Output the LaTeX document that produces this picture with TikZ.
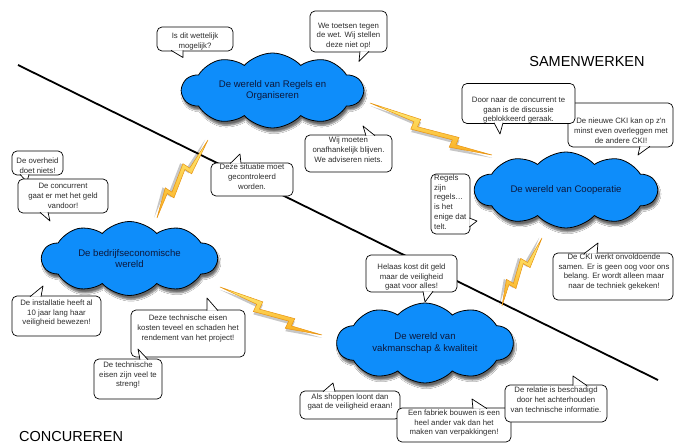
\documentclass[tikz,border=0pt]{standalone}
\usepackage{fontspec}
\newfontfamily\lsans{Liberation Sans}
\usetikzlibrary{shapes.symbols,shadows.blur,calc}

\definecolor{cloudblue}{RGB}{14,141,250}
\definecolor{cloudtext}{RGB}{12,24,60}
\definecolor{bubbletext}{RGB}{45,45,45}
\definecolor{boltlight}{RGB}{255,238,120}
\definecolor{boltdark}{RGB}{250,172,30}
\definecolor{boltedge}{RGB}{232,148,18}

\tikzset{
  world/.style={cloud, cloud puffs=10, cloud puff arc=95, cloud ignores aspect,
    draw=black, line width=0.8pt, fill=cloudblue, inner sep=0pt, align=center,
    font=\lsans\fontsize{9.6}{11.6}\selectfont, text=cloudtext,
    blur shadow={shadow xshift=1.5pt, shadow yshift=-4pt, shadow blur steps=6, shadow opacity=60}},
  bubble/.style={draw=black, fill=white, line width=0.7pt, rounded corners=5pt, inner sep=0pt},
  btext/.style={align=center, font=\lsans\fontsize{7.8}{9.8}\selectfont, text=bubbletext, inner sep=0pt},
  side/.style={font=\lsans\fontsize{14.5}{16}\selectfont, inner sep=0pt},
  divider/.style={line width=1.8pt, black},
  bolt/.pic={
    \fill[black, opacity=0.22, shift={(1.2,1.6)}]
      (0,0) -- (40,-3) -- (40,2) -- (72,-2) -- (72,3) -- (100,0) -- (68,6) -- (68,1) -- (36,5) -- (36,0) -- cycle;
    \path[draw=boltedge, line width=0.5pt, line join=miter, top color=boltlight, bottom color=boltdark]
      (0,0) -- (40,-3) -- (40,2) -- (72,-2) -- (72,3) -- (100,0) -- (68,6) -- (68,1) -- (36,5) -- (36,0) -- cycle;
  }
}

% speech-bubble tail: base point, tip, base point
\newcommand\tail[3]{%
  \fill[white] (#1) -- (#2) -- (#3) -- cycle;
  \draw[line width=0.7pt, line join=round] (#1) -- (#2) -- (#3);}

\begin{document}
\begin{tikzpicture}[x=1pt, y=-1pt]
  \fill[white] (0,0) rectangle (675,444);
  \useasboundingbox (0,0) rectangle (675,444);

  % dividing line between the two halves
  \coordinate (lineA) at (18,65);
  \coordinate (lineB) at (658,380);
  \draw[divider] (lineA) -- (lineB);

  \node[side] (samen) at (587,62) {SAMENWERKEN};
  \node[side, anchor=west] (concur) at (19,437) {CONCUREREN};

  % lightning bolts between the worlds
  \pic[rotate=-23.1, xscale=1.326, yscale=1.6] at (370,103) {bolt};
  \pic[rotate=-123.2, xscale=0.932, yscale=1.6] at (208,140) {bolt};
  \pic[rotate=-25.2, xscale=1.127, yscale=1.6] at (220,287) {bolt};
  \pic[rotate=-120.5, xscale=0.789, yscale=1.6] at (542,238) {bolt};

  % the four worlds
  \node[world, minimum width=181pt, minimum height=75pt] (regels) at (272.5,90.5)
    {De wereld van Regels en\\Organiseren};
  \node[world, minimum width=182pt, minimum height=76pt] (coop) at (566,190)
    {De wereld van Cooperatie};
  \node[world, minimum width=175pt, minimum height=74pt] (bedrijf) at (129.5,258.5)
    {De bedrijfseconomische\\wereld};
  \node[world, minimum width=176pt, minimum height=80pt] (vak) at (425,343)
    {De wereld van\\vakmanschap \& kwaliteit};

  % ---- speech bubbles ----
  \node[bubble, minimum width=76pt, minimum height=24pt] (bA) at (195,39) {};
  \tail{171,50.3}{183,57.5}{183,50.3}
  \node[btext] (tA) at (195,41.5) {Is dit wettelijk\\mogelijk?};

  \node[bubble, minimum width=77pt, minimum height=41pt] (bB) at (348.5,31.5) {};
  \tail{360,51.3}{359,61.5}{369,51.3}
  \node[btext] (tB) at (348.5,36) {We toetsen tegen\\de wet. Wij stellen\\deze niet op!};

  \node[bubble, minimum width=87pt, minimum height=37pt] (bC) at (348.5,153.5) {};
  \tail{366,135.7}{363,126}{375,135.7}
  \node[btext] (tC) at (348.5,150) {Wij moeten\\onafhankelijk blijven.\\We adviseren niets.};

  \node[bubble, minimum width=82pt, minimum height=33pt] (bD) at (252,179.5) {};
  \tail{230,163.7}{240,154}{241,163.7}
  \node[btext] (tD) at (252,176.5) {Deze situatie moet\\gecontroleerd\\worden.};

  \node[bubble, minimum width=105pt, minimum height=44pt] (bF) at (620.5,125) {};
  \tail{640,146.3}{638,155}{650,146.3}
  \node[btext] (tF) at (621,131) {De nieuwe CKI kan op z'n\\minst even overleggen met\\de andere CKI!};

  \node[bubble, minimum width=113pt, minimum height=40pt] (bE) at (518.5,103.5) {};
  \tail{494,122.8}{500,134}{503,122.8}
  \node[btext] (tE) at (518.5,110) {Door naar de concurrent te\\gaan is de discussie\\geblokkeerd geraak.};

  \node[bubble, minimum width=39pt, minimum height=60pt] (bG) at (450.5,204) {};
  \tail{469.3,218}{477,221}{469.3,227}
  \node[btext, align=left, anchor=west] (tG) at (434,202) {Regels\\zijn\\regels…\\is het\\enige dat\\telt.};

  \node[bubble, minimum width=120pt, minimum height=47pt] (bH) at (613,276.5) {};
  \tail{584,253.7}{598,243}{597,253.7}
  \node[btext] (tH) at (614,272) {De CKI werkt onvoldoende\\samen. Er is geen oog voor ons\\belang. Er wordt alleen maar\\naar de techniek gekeken!};

  \node[bubble, minimum width=91pt, minimum height=37pt] (bI) at (411.5,273.5) {};
  \tail{423,291.3}{425,302}{433,291.3}
  \node[btext] (tI) at (411.5,277) {Helaas kost dit geld\\maar de veiligheid\\gaat voor alles!};

  \node[bubble, minimum width=51pt, minimum height=24pt] (bJ) at (37.5,163) {};
  \tail{20,174.3}{27,182}{29,174.3}
  \node[btext] (tJ) at (37.5,166) {De overheid\\doet niets!};

  \node[bubble, minimum width=90pt, minimum height=34pt] (bK) at (63,196) {};
  \tail{40,212.3}{50,221}{48,212.3}
  \node[btext] (tK) at (63,196) {De concurrent\\gaat er met het geld\\vandoor!};

  \node[bubble, minimum width=89pt, minimum height=40pt] (bL) at (56.5,316) {};
  \tail{30,296.7}{43,286}{41,296.7}
  \node[btext] (tL) at (56.5,313) {De installatie heeft al\\10 jaar lang haar\\veiligheid bewezen!};

  \node[bubble, minimum width=114pt, minimum height=47pt] (bM) at (188,333.5) {};
  \tail{207,310.7}{207,298}{218,310.7}
  \node[btext] (tM) at (188,328.5) {Deze technische eisen\\kosten teveel en schaden het\\rendement van het project!};

  \node[bubble, minimum width=68pt, minimum height=40pt] (bN) at (128,379) {};
  \tail{140,359.7}{138,349}{148,359.7}
  \node[btext] (tN) at (128,375) {De technische\\eisen zijn veel te\\streng!};

  \node[bubble, minimum width=100pt, minimum height=28pt] (bO) at (350,405) {};
  \tail{323,391.7}{333,383}{335,391.7}
  \node[btext] (tO) at (350,402) {Als shoppen loont dan\\gaat de veiligheid eraan!};

  \node[bubble, minimum width=114pt, minimum height=34pt] (bP) at (454,425) {};
  \tail{473,408.7}{472,399}{487,408.7}
  \node[btext] (tP) at (454,423) {Een fabriek bouwen is een\\heel ander vak dan het\\maken van verpakkingen!};

  \node[bubble, minimum width=102pt, minimum height=37pt] (bQ) at (556,403.5) {};
  \tail{573,385.7}{573,376}{587,385.7}
  \node[btext] (tQ) at (556,399.5) {De relatie is beschadigd\\door het achterhouden\\van technische informatie.};
\end{tikzpicture}
\end{document}
